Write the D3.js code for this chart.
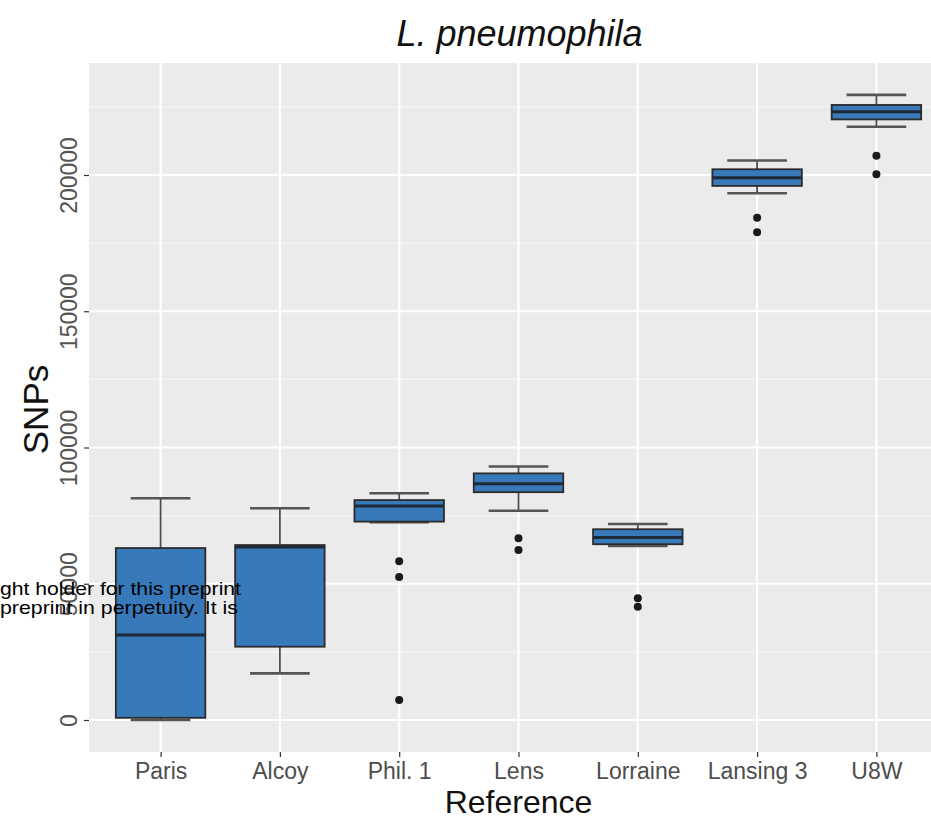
<!DOCTYPE html>
<html lang="en">
<head>
<meta charset="UTF-8">
<title>L. pneumophila SNPs</title>
<script src="https://d3js.org/d3.v7.min.js"></script>
<style>
  body { margin: 0; background: #fff; }
  svg { display: block; font-family: "Liberation Sans", Arial, sans-serif; }
</style>
</head>
<body>
<script>
// Box statistics
const categories = ["Paris", "Alcoy", "Phil. 1", "Lens", "Lorraine", "Lansing 3", "U8W"];
const whiskerLow  = [0,     17100, 72600, 76800, 63900, 193300, 217700];
const q1          = [800,   26900, 72800, 83600, 64500, 196000, 220400];
const median      = [31200, 63500, 78500, 86700, 67000, 199000, 223200];
const q3          = [63100, 64200, 80700, 90500, 70000, 202100, 225700];
const whiskerHigh = [81400, 77700, 83200, 93000, 71900, 205300, 229400];
const outliers    = [[], [], [58300, 52500, 7300], [66700, 62400], [44700, 41600], [184300, 179000], [207100, 200300]];
const yTicks = [0, 50000, 100000, 150000, 200000];
const yMinor = [25000, 75000, 125000, 175000, 225000];

const W = 931, H = 820;
const panel = {left: 89, top: 63, right: 948, bottom: 752};

const svg = d3.select("body").append("svg")
    .attr("width", W)
    .attr("height", H);

// ggplot discrete expansion: 0.6 units on each side
const xp = d3.scalePoint()
    .domain(categories)
    .range([panel.left, panel.right])
    .padding(0.6);
const step = xp.step();

const y = d3.scaleLinear()
    .domain([-11743, 241100])
    .range([panel.bottom, panel.top]);

// panel background
svg.append("rect")
    .attr("x", panel.left).attr("y", panel.top)
    .attr("width", panel.right - panel.left)
    .attr("height", panel.bottom - panel.top)
    .attr("fill", "#ebebeb");

// grid
svg.append("g").selectAll("line").data(yMinor).join("line")
    .attr("x1", panel.left).attr("x2", panel.right)
    .attr("y1", d => y(d)).attr("y2", d => y(d))
    .attr("stroke", "#f5f5f5").attr("stroke-width", 1.2);
svg.append("g").selectAll("line").data(yTicks).join("line")
    .attr("x1", panel.left).attr("x2", panel.right)
    .attr("y1", d => y(d)).attr("y2", d => y(d))
    .attr("stroke", "#fff").attr("stroke-width", 2.2);
svg.append("g").selectAll("line").data(categories).join("line")
    .attr("x1", d => xp(d)).attr("x2", d => xp(d))
    .attr("y1", panel.top).attr("y2", panel.bottom)
    .attr("stroke", "#fff").attr("stroke-width", 2.2);

// axes
const yAxis = svg.append("g")
    .attr("transform", `translate(${panel.left},0)`)
    .call(d3.axisLeft(y).tickValues(yTicks).tickSize(5).tickSizeOuter(0).tickFormat(d3.format("d")));
yAxis.select(".domain").remove();
yAxis.selectAll(".tick line").attr("stroke", "#333").attr("stroke-width", 1.2);
yAxis.selectAll(".tick text")
    .attr("fill", "#555")
    .attr("font-size", 23)
    .attr("text-anchor", "middle")
    .attr("x", 0).attr("y", 0).attr("dy", 0)
    .attr("transform", "translate(-12,0) rotate(-90)");

const xAxis = svg.append("g")
    .attr("transform", `translate(0,${panel.bottom})`)
    .call(d3.axisBottom(xp).tickSize(5).tickSizeOuter(0));
xAxis.select(".domain").remove();
xAxis.selectAll(".tick line").attr("stroke", "#333").attr("stroke-width", 1.2);
xAxis.selectAll(".tick text")
    .attr("fill", "#4d4d4d")
    .attr("font-size", 23)
    .attr("y", 27).attr("dy", 0);

// boxes
const bw = step * 0.75, cw = step * 0.5;
const g = svg.append("g");
categories.forEach((c, i) => {
    const cx = xp(c);
    const grp = g.append("g");
    grp.append("line")
        .attr("x1", cx).attr("x2", cx)
        .attr("y1", y(whiskerHigh[i])).attr("y2", y(q3[i]))
        .attr("stroke", "#4d4d4d").attr("stroke-width", 1.8);
    grp.append("line")
        .attr("x1", cx).attr("x2", cx)
        .attr("y1", y(q1[i])).attr("y2", y(whiskerLow[i]))
        .attr("stroke", "#4d4d4d").attr("stroke-width", 1.8);
    [whiskerHigh[i], whiskerLow[i]].forEach(v => {
        grp.append("line")
            .attr("x1", cx - cw / 2).attr("x2", cx + cw / 2)
            .attr("y1", y(v)).attr("y2", y(v))
            .attr("stroke", "#555").attr("stroke-width", 2.6);
    });
    grp.append("rect")
        .attr("x", cx - bw / 2).attr("width", bw)
        .attr("y", y(q3[i])).attr("height", y(q1[i]) - y(q3[i]))
        .attr("fill", "#3779b9")
        .attr("stroke", "#2b2b2b").attr("stroke-width", 1.8);
    grp.append("line")
        .attr("x1", cx - bw / 2).attr("x2", cx + bw / 2)
        .attr("y1", y(median[i])).attr("y2", y(median[i]))
        .attr("stroke", "#1f2a36").attr("stroke-width", 3);
    grp.selectAll("circle").data(outliers[i]).join("circle")
        .attr("cx", cx).attr("cy", d => y(d)).attr("r", 4)
        .attr("fill", "#1a1a1a");
});

// titles
svg.append("text")
    .attr("x", (panel.left + panel.right) / 2 + 1).attr("y", 46)
    .attr("text-anchor", "middle")
    .attr("font-size", 36).attr("font-style", "italic")
    .attr("fill", "#111")
    .text("L. pneumophila");
svg.append("text")
    .attr("x", (panel.left + panel.right) / 2).attr("y", 813)
    .attr("text-anchor", "middle")
    .attr("font-size", 32).attr("fill", "#111")
    .text("Reference");
svg.append("text")
    .attr("transform", `translate(48,${(panel.top + panel.bottom) / 2 + 2}) rotate(-90)`)
    .attr("text-anchor", "middle")
    .attr("font-size", 35).attr("fill", "#111")
    .text("SNPs");

// overlay text
const overlay = ["ght holder for this preprint", "preprint in perpetuity. It is"];
const overlayWidth = [241, 238];
svg.append("g").selectAll("text").data(overlay).join("text")
    .attr("x", 0)
    .attr("y", (d, i) => 595 + i * 19)
    .attr("font-size", 19)
    .attr("textLength", (d, i) => overlayWidth[i])
    .attr("lengthAdjust", "spacingAndGlyphs")
    .attr("fill", "#000")
    .text(d => d);
</script>
</body>
</html>
